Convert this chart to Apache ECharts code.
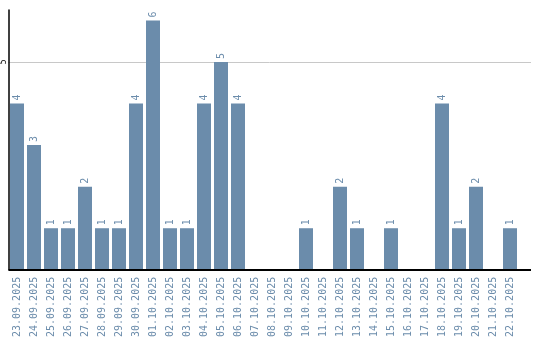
<!DOCTYPE html>
<html><head><meta charset="utf-8">
<script src="https://cdn.jsdelivr.net/npm/echarts@6/dist/echarts.min.js"></script>
<style>html,body{margin:0;padding:0;background:#fff}#c{width:540px;height:340px}</style>
</head><body><div id="c"></div>
<script>
const categories = ["23.09.2025","24.09.2025","25.09.2025","26.09.2025","27.09.2025","28.09.2025","29.09.2025","30.09.2025","01.10.2025","02.10.2025","03.10.2025","04.10.2025","05.10.2025","06.10.2025","07.10.2025","08.10.2025","09.10.2025","10.10.2025","11.10.2025","12.10.2025","13.10.2025","14.10.2025","15.10.2025","16.10.2025","17.10.2025","18.10.2025","19.10.2025","20.10.2025","21.10.2025","22.10.2025"];
const values = [4,3,1,1,2,1,1,4,6,1,1,4,5,4,0,0,0,1,0,2,1,0,1,0,0,4,1,2,0,1];
const yTicks = [5];

const chart = echarts.init(document.getElementById('c'), null, {renderer:'canvas'});
const textColor = '#6b8cab';
chart.setOption({
  animation:false,
  grid:{left:8.5, top:10, width:510, height:260, containLabel:false},
  xAxis:{type:'category', data:categories,
    axisLine:{show:false}, axisTick:{show:false},
    axisLabel:{rotate:90, interval:0, margin:7, color:textColor, fontFamily:'DejaVu Sans Mono', fontSize:10}},
  yAxis:{type:'value', min:0, max:6.25, interval:5,
    axisLine:{show:true, lineStyle:{color:'#000', width:1.5}}, axisTick:{show:false},
    splitLine:{show:false},
    axisLabel:{show:false}},
  graphic:[
    {type:'line', shape:{x1:8.5,y1:270,x2:531,y2:270}, style:{stroke:'#000', lineWidth:2}, z:10}
  ],
  series:[{type:'bar', data:values.map(v=>v===0?null:v), barWidth:14,
    itemStyle:{color:'#6b8cab'},
    label:{show:true, position:'top', rotate:90, align:'left', verticalAlign:'middle', distance:3,
      color:textColor, fontFamily:'DejaVu Sans Mono', fontSize:10},
    markLine:{silent:true, symbol:'none', z:0,
      lineStyle:{color:'#c8c8c8', width:1, type:'solid'},
      label:{show:true, position:'start', rotate:90, align:'center', verticalAlign:'bottom', distance:1,
        color:'#000', fontFamily:'DejaVu Sans Mono', fontSize:8},
      data:yTicks.map(v=>[{yAxis:v, x:8.5, label:{formatter:String(v)}},{yAxis:v, x:531}])}
  }]
});
</script></body></html>
